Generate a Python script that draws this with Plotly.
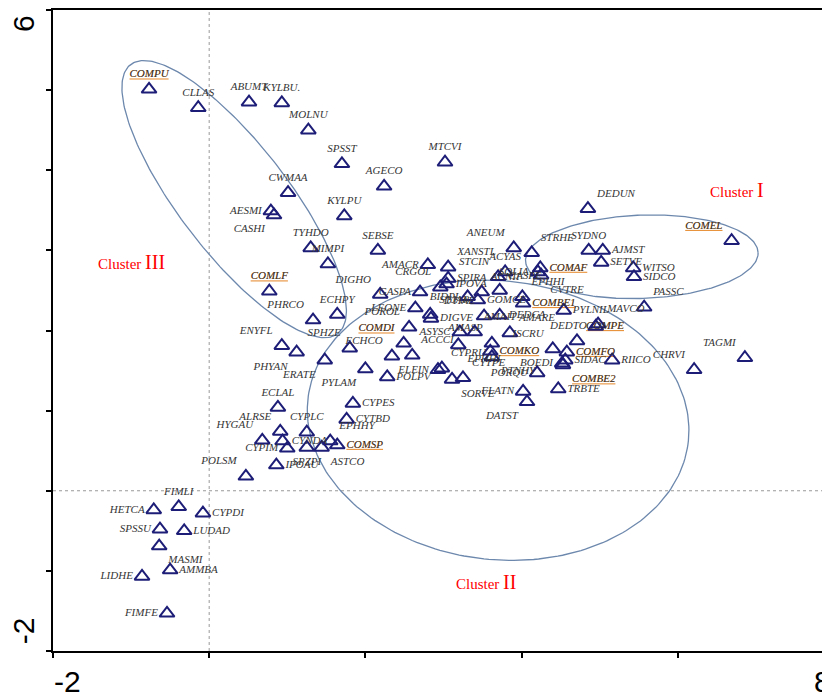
import numpy as np
import plotly.graph_objects as go

# ---- data (species scores on axes 1 and 2) ----
names = ["COMPU","CLLAS","ABUMT","KYLBU.","MOLNU","SPSST","AGECO","MTCVI","CWMAA","AESMI",
         "CASHI","KYLPU","TYHDO","MIMPI","SEBSE","COMLF","PHRCO","ECHPY","DIGHO","GASPA",
         "LEONE","STJAB","DIGVE","POROL","COMDI","SPHZE","ECHCO","ACCCI","ENYFL","PHYAN",
         "ERATE","PYLAM","POLPV","ELEIN","CYPRU","CYTPE","SORVE","CYPES","CYTBD","ECLAL",
         "ALRSE","HYGAU","CYPLC","CYNDA","CYPIM","SPZPI","ASTCO","EPHHY","COMSP","IPOAU",
         "POLSM","FIMLI","HETCA","CYPDI","SPSSU","LUDAD","MASMI","AMMBA","LIDHE","FIMFE",
         "CHRVI","TAGMI","RIICO","DEDTO","MAVCO","PYLNIL","COMBE1","PASSC","COMPE","COMFO",
         "SIDAC","COMBE2","BOEDI","ISCRU","TRBTE","FLATN","DATST","PORQU","PTNHY","COMKO",
         "AMARE","DEDCA","DTIAE","AMAIT","AMASP","ASYSC","EPHHI","AMACR","XANSTL","SPIRA",
         "CRGOL","IPOVA","BIDPI","GOMCE","ACNII","STCIN","ACYAS","SOLIA","COMAF","CVTRE",
         "CASPE","EPHHI","ANEUM","STRHE","DEDUN","SYDNO","AJMST","SETVE","WITSO","SIDCO",
         "COMEL"]
axis1 = [-0.77,-0.14,0.51,0.93,1.27,1.70,2.24,3.02,1.01,0.79,
         0.83,1.73,1.30,1.52,2.16,0.77,1.33,1.64,2.19,2.70,
         2.64,2.83,2.84,2.56,2.49,1.80,2.34,2.60,0.93,1.12,
         1.48,2.00,2.28,2.93,2.98,3.25,3.11,1.84,1.76,0.88,
         0.91,0.68,1.25,0.94,1.00,1.25,1.44,1.55,1.64,0.86,
         0.47,-0.39,-0.71,-0.08,-0.63,-0.32,-0.64,-0.50,-0.86,-0.54,
         6.21,6.86,5.16,4.95,4.98,4.54,4.02,5.57,4.71,4.58,
         4.56,4.53,4.52,4.40,4.47,4.02,4.07,4.20,3.62,3.60,
         3.85,3.72,3.52,3.40,3.62,3.21,3.19,2.80,3.06,3.06,
         2.96,3.04,3.31,3.44,3.49,3.70,3.79,4.21,4.24,4.25,
         3.72,4.01,3.90,4.13,4.85,4.86,5.04,5.02,5.43,5.44,
         6.69]
axis2 = [5.01,4.78,4.85,4.84,4.50,4.08,3.80,4.10,3.72,3.49,
         3.44,3.43,3.03,2.83,3.00,2.49,2.13,2.20,2.45,2.48,
         2.28,2.20,2.15,2.04,1.84,1.78,1.68,1.69,1.81,1.73,
         1.63,1.52,1.42,1.51,1.53,1.41,1.39,1.09,0.89,1.04,
         0.74,0.63,0.73,0.62,0.53,0.54,0.54,0.62,0.57,0.32,
         0.18,-0.20,-0.24,-0.28,-0.48,-0.50,-0.69,-0.99,-1.07,-1.53,
         1.51,1.66,1.63,2.05,2.08,2.25,2.34,2.29,1.87,1.73,
         1.63,1.57,1.59,1.77,1.27,1.24,1.11,1.47,1.67,1.74,
         1.97,2.19,2.18,1.98,1.84,1.98,1.82,2.82,2.79,2.65,
         2.54,2.58,2.42,2.38,2.48,2.67,2.73,2.73,2.78,2.69,
         2.50,2.42,3.03,2.97,3.52,3.00,3.00,2.85,2.78,2.67,
         3.12]
underlined = ["COMPU","COMLF","COMDI","COMSP","COMBE1","COMPE","COMFO","COMBE2","COMKO","COMAF","COMEL"]

# cluster ellipses: centre x, centre y, semi-axis a, semi-axis b, angle (deg)
clusters = {
    "I":   (5.54, 2.92, 1.49, 0.52, 2.0),
    "II":  (3.70, 0.88, 2.45, 1.74, -6.0),
    "III": (0.32, 3.64, 2.14, 0.69, -51.5),
}
cluster_label_x = [6.76, 3.54, -1.00]
cluster_label_y = [3.75, -1.14, 2.85]
cluster_label_txt = ["I", "II", "III"]

# ---- label placement (style only) ----
label_pos = {
 "AESMI":"middle left","CASHI":"bottom left","PHRCO":"top left","DIGHO":"top left","GASPA":"middle left",
 "LEONE":"middle left","STJAB":"top right","DIGVE":"middle right","POROL":"top left","COMDI":"top left",
 "SPHZE":"top left","ECHCO":"top left","ACCCI":"top right","ENYFL":"top left","PHYAN":"bottom left",
 "ERATE":"bottom left","PYLAM":"bottom left","POLPV":"middle right","ELEIN":"middle left","CYPRU":"top right",
 "CYTPE":"top right","SORVE":"bottom right","CYPES":"middle right","CYTBD":"middle right","ALRSE":"top left",
 "HYGAU":"top left","CYNDA":"middle right","CYPIM":"middle left","SPZPI":"bottom center","ASTCO":"bottom right",
 "EPHHY":"top right","COMSP":"middle right","IPOAU":"middle right","POLSM":"top left","HETCA":"middle left",
 "CYPDI":"middle right","SPSSU":"middle left","LUDAD":"middle right","MASMI":"bottom right","AMMBA":"middle right",
 "LIDHE":"middle left","FIMFE":"middle left","CHRVI":"top left","TAGMI":"top left","RIICO":"middle right",
 "DEDTO":"middle left","MAVCO":"top right","PYLNIL":"middle right","COMBE1":"middle right","PASSC":"top right",
 "COMPE":"top right","COMFO":"middle right","SIDAC":"middle right","COMBE2":"bottom right","BOEDI":"middle left",
 "ISCRU":"top left","TRBTE":"middle right","FLATN":"middle left","DATST":"bottom left","PORQU":"middle left",
 "PTNHY":"bottom right","COMKO":"middle right","AMARE":"top right","DEDCA":"middle right","DTIAE":"top left",
 "AMAIT":"top right","AMASP":"top left","ASYSC":"middle left","EPHHI":"bottom right","AMACR":"middle left",
 "XANSTL":"top right","SPIRA":"middle right","CRGOL":"top left","IPOVA":"middle right","BIDPI":"middle left",
 "GOMCE":"middle right","ACNII":"top right","STCIN":"top left","ACYAS":"top center","SOLIA":"middle left",
 "COMAF":"middle right","CVTRE":"bottom right","CASPE":"top right","ANEUM":"top left","STRHE":"top right",
 "DEDUN":"top right","AJMST":"middle right","SETVE":"middle right","WITSO":"middle right","SIDCO":"middle right",
 "COMEL":"top left",
}
positions = [label_pos.get(n, "top center") for n in names]
positions[101] = "top right"  # second EPHHI

LABEL_FONT = "Liberation Serif"
fig = go.Figure()

# ellipses
for key, (cx, cy, a, b, ang) in clusters.items():
    t = np.linspace(0, 2*np.pi, 241)
    th = np.deg2rad(ang)
    ex = cx + a*np.cos(t)*np.cos(th) - b*np.sin(t)*np.sin(th)
    ey = cy + a*np.cos(t)*np.sin(th) + b*np.sin(t)*np.cos(th)
    fig.add_trace(go.Scatter(x=ex, y=ey, mode="lines", line=dict(color="#6d88ad", width=1.3),
                             hoverinfo="skip", showlegend=False))

# orange underline layer
ul_idx = [i for i, n in enumerate(names) if n in underlined]
fig.add_trace(go.Scatter(
    x=[axis1[i] for i in ul_idx], y=[axis2[i] for i in ul_idx], mode="markers+text",
    text=[f"<u><i>{names[i]}</i></u>" for i in ul_idx],
    textposition=[positions[i] for i in ul_idx],
    marker=dict(symbol="triangle-up-open", size=13, color="rgba(0,0,0,0)", line=dict(width=2, color="rgba(0,0,0,0)")),
    textfont=dict(family=LABEL_FONT, size=11, color="#e8913a"),
    showlegend=False, hoverinfo="skip", cliponaxis=False))

# points with labels
fig.add_trace(go.Scatter(
    x=axis1, y=axis2, mode="markers+text",
    text=[f"<i>{n}</i>" for n in names], textposition=positions,
    marker=dict(symbol="triangle-up-open", size=13, color="#1d1d78", line=dict(width=2, color="#1d1d78")),
    textfont=dict(family=LABEL_FONT, size=11, color="#353535"),
    showlegend=False, cliponaxis=False))

# reference lines through origin
fig.add_shape(type="line", xref="x", yref="paper", x0=0, x1=0, y0=0, y1=1,
              line=dict(color="#999999", width=1, dash="dot"), layer="below")
fig.add_shape(type="line", xref="paper", yref="y", x0=0, x1=1, y0=0, y1=0,
              line=dict(color="#999999", width=1, dash="dot"), layer="below")

# cluster labels
for cx, cy, txt in zip(cluster_label_x, cluster_label_y, cluster_label_txt):
    fig.add_annotation(x=cx, y=cy, xref="x", yref="y", showarrow=False,
                       text=f"Cluster <span style='font-size:20px'>{txt}</span>",
                       font=dict(family="Liberation Serif", size=15, color="#ff0000"))

# axis tick labels (large)
TICKF = dict(family="Liberation Sans", size=30, color="#000000")
tick_common = dict(xref="paper", yref="paper", showarrow=False, font=TICKF,
                   xanchor="center", yanchor="middle")
fig.add_annotation(x=0.0193, y=-0.048, text="-2", **tick_common)
fig.add_annotation(x=0.990, y=-0.048, text="8", **tick_common)
fig.add_annotation(x=-0.0386, y=0.978, text="6", textangle=-90, **tick_common)
fig.add_annotation(x=-0.0386, y=0.031, text="-2", textangle=-90, **tick_common)

# the page body adds an 8px margin, so the figure is sized/offset to compensate
fig.update_layout(
    width=822, height=690, margin=dict(l=45, r=0, t=2, b=47, autoexpand=False),
    paper_bgcolor="white", plot_bgcolor="white",
    xaxis=dict(range=[-2, 7.95], tickvals=[-2, 0, 2, 4, 6, 8], showticklabels=False,
               ticks="outside", ticklen=5, tickwidth=2, tickcolor="black",
               showline=True, linecolor="black", linewidth=2, mirror=True,
               showgrid=False, zeroline=False, automargin=False),
    yaxis=dict(range=[-2, 6], tickvals=list(range(-2, 7)), showticklabels=False,
               ticks="outside", ticklen=5, tickwidth=2, tickcolor="black",
               showline=True, linecolor="black", linewidth=2,
               showgrid=False, zeroline=False, automargin=False),
)
fig.write_html("out.html")
